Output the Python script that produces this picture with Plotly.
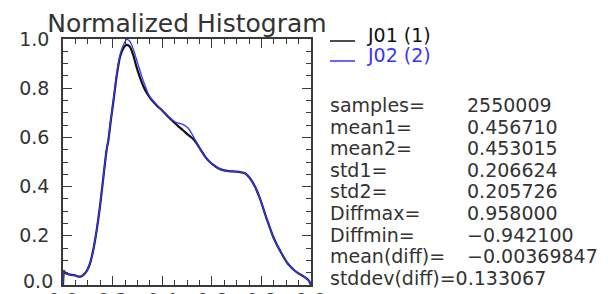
import plotly.graph_objects as go

x_vals = [0.0, 0.004, 0.01, 0.028, 0.045, 0.062, 0.075, 0.089, 0.10, 0.109, 0.122, 0.136,
          0.149, 0.163, 0.176, 0.183, 0.193, 0.203, 0.217, 0.23, 0.243, 0.257, 0.27, 0.283,
          0.294, 0.304, 0.317, 0.331, 0.345, 0.358, 0.378, 0.398, 0.42, 0.445, 0.465, 0.485,
          0.505, 0.525, 0.539, 0.556, 0.573, 0.59, 0.606, 0.626, 0.646, 0.67, 0.694, 0.714,
          0.734, 0.754, 0.774, 0.794, 0.808, 0.821, 0.835, 0.848, 0.862, 0.876, 0.89, 0.902,
          0.915, 0.93, 0.945, 0.956, 0.97, 0.98, 0.99, 1.0]

j01_vals = [0.0, 0.058, 0.048, 0.042, 0.040, 0.034, 0.036, 0.048, 0.065, 0.088, 0.142, 0.224,
            0.318, 0.44, 0.55, 0.589, 0.67, 0.745, 0.854, 0.928, 0.962, 0.976, 0.968, 0.935,
            0.895, 0.862, 0.825, 0.793, 0.77, 0.752, 0.73, 0.711, 0.688, 0.664, 0.645, 0.628,
            0.61, 0.594, 0.576, 0.548, 0.522, 0.502, 0.488, 0.475, 0.467, 0.463, 0.461, 0.459,
            0.454, 0.434, 0.40, 0.352, 0.31, 0.27, 0.23, 0.195, 0.165, 0.138, 0.113, 0.093,
            0.077, 0.062, 0.05, 0.043, 0.035, 0.028, 0.02, 0.0]

j02_vals = [0.0, 0.058, 0.048, 0.042, 0.040, 0.034, 0.036, 0.048, 0.065, 0.088, 0.142, 0.224,
            0.318, 0.44, 0.55, 0.589, 0.672, 0.75, 0.86, 0.935, 0.975, 0.998, 0.99, 0.96,
            0.925, 0.892, 0.85, 0.81, 0.775, 0.755, 0.732, 0.712, 0.69, 0.668, 0.658, 0.652,
            0.637, 0.605, 0.578, 0.548, 0.522, 0.502, 0.488, 0.475, 0.467, 0.463, 0.461, 0.459,
            0.454, 0.434, 0.40, 0.352, 0.31, 0.27, 0.23, 0.195, 0.165, 0.138, 0.113, 0.093,
            0.077, 0.062, 0.05, 0.043, 0.035, 0.028, 0.02, 0.0]

series_names = ["J01 (1)", "J02 (2)"]
series_colors = ["#111111", "#3535ff"]

stat_labels = ["samples=", "mean1=", "mean2=", "std1=", "std2=", "Diffmax=", "Diffmin=",
               "mean(diff)=", "stddev(diff)="]
stat_values = ["2550009", "0.456710", "0.453015", "0.206624", "0.205726", "0.958000",
               "\u22120.942100", "\u22120.00369847", "0.133067"]

x_ticks = [0.0, 0.2, 0.4, 0.6, 0.8, 1.0]
y_ticks = [0.0, 0.2, 0.4, 0.6, 0.8, 1.0]

FONT = "DejaVu Sans"
TXT = "#333333"
W, H = 608, 294
L, R, T, B = 63, 297, 39, 9
PW, PH = W - L - R, H - T - B


def px_to_paper(px, py):
    return (px - L) / PW, (H - B - py) / PH


fig = go.Figure()
fig.add_trace(go.Scatter(x=x_vals, y=j01_vals, mode="lines", name=series_names[0],
                         line=dict(color=series_colors[0], width=2.2, shape="spline", smoothing=0.6)))
fig.add_trace(go.Scatter(x=x_vals, y=j02_vals, mode="lines", name=series_names[1],
                         line=dict(color=series_colors[1], width=1.3, shape="spline", smoothing=0.6)))

axis_common = dict(
    range=[0, 1], showgrid=False, zeroline=False, showline=True, mirror="allticks",
    linecolor="#3a3a3a", linewidth=1.5, ticks="inside", ticklen=9, tickwidth=1.2,
    tickcolor="#3a3a3a",
    tickfont=dict(family=FONT, size=19, color=TXT),
    minor=dict(ticks="inside", ticklen=5, tickwidth=1, tickcolor="#3a3a3a", dtick=0.05),
)
fig.update_xaxes(tickvals=x_ticks, ticktext=[f"{v:.1f}" for v in x_ticks],
                 ticklabelstandoff=-3, **axis_common)
# the lowest y label sits on the canvas edge; it is drawn as an annotation below
fig.update_yaxes(tickvals=y_ticks, ticktext=[""] + [f"{v:.1f}" for v in y_ticks[1:]],
                 ticklabelstandoff=8, **axis_common)

annotations = [dict(xref="paper", yref="y", x=0, y=y_ticks[0], xanchor="right",
                    yanchor="middle", xshift=-8, yshift=4, showarrow=False,
                    text=f"{y_ticks[0]:.1f}", font=dict(family=FONT, size=19, color=TXT))]
shapes = []
# legend keys
legend_y = [(41, 35), (61, 55)]
for name, color, (ly, ty) in zip(series_names, series_colors, legend_y):
    x0, y0 = px_to_paper(330, ly)
    x1, _ = px_to_paper(355, ly)
    shapes.append(dict(type="line", xref="paper", yref="paper", x0=x0, x1=x1, y0=y0, y1=y0,
                       line=dict(color=color, width=1.5)))
    tx, tyy = px_to_paper(365, ty)
    annotations.append(dict(xref="paper", yref="paper", x=tx, y=tyy, xanchor="left",
                            yanchor="middle", showarrow=False, text=name,
                            font=dict(family=FONT, size=19, color=color)))

# statistics block
for i, (lab, val) in enumerate(zip(stat_labels, stat_values)):
    py = 105 + i * 21.6
    lx, ly = px_to_paper(328, py)
    if i == len(stat_labels) - 1:
        annotations.append(dict(xref="paper", yref="paper", x=lx, y=ly, xanchor="left",
                                yanchor="middle", showarrow=False, text=lab + val,
                                font=dict(family=FONT, size=19, color=TXT)))
    else:
        annotations.append(dict(xref="paper", yref="paper", x=lx, y=ly, xanchor="left",
                                yanchor="middle", showarrow=False, text=lab,
                                font=dict(family=FONT, size=19, color=TXT)))
        vx, _ = px_to_paper(465, py)
        annotations.append(dict(xref="paper", yref="paper", x=vx, y=ly, xanchor="left",
                                yanchor="middle", showarrow=False, text=val,
                                font=dict(family=FONT, size=19, color=TXT)))

fig.update_layout(
    width=W, height=H,
    margin=dict(l=L, r=R, t=T, b=B, autoexpand=False),
    paper_bgcolor="white", plot_bgcolor="white",
    showlegend=False,
    title=dict(text="Normalized Histogram", x=0.5, xref="paper", xanchor="center",
               y=1 - 23 / H, yref="container", yanchor="middle",
               font=dict(family=FONT, size=25, color="#333333")),
    annotations=annotations, shapes=shapes,
)

fig.write_html("out.html", config={"displayModeBar": False},
               post_script="document.body.style.margin='0';document.body.style.padding='0';"
                           "document.documentElement.style.overflow='hidden';")
